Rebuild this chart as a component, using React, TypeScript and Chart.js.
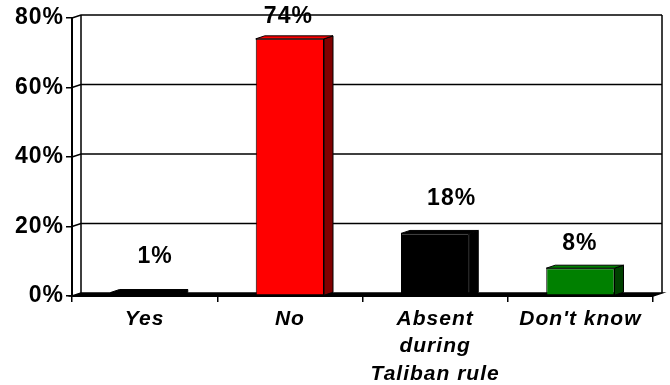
import React, { useEffect, useRef } from "react";
import { Chart, registerables } from "chart.js";

Chart.register(...registerables);

// Survey answers and their shares (%)
const categories: (string | string[])[] = ["Yes", "No", ["Absent", "during", "Taliban rule"], "Don't know"];
const values: number[] = [1, 74, 18, 8];
const yTickValues: number[] = [0, 20, 40, 60, 80];

// Face colours for each bar: front / side
const frontColors = ["#000000", "#FF0000", "#000000", "#008000"];
const sideColors = ["#000000", "#800000", "#000000", "#004000"];

// depth of the pseudo-3D walls and bars
const DX = 9;
const DY = 3;

// small per-label nudges for the value captions (dx, lift above bar top)
const captionNudge = [
  { dx: 6, lift: 36 },
  { dx: -6, lift: 22 },
  { dx: 12, lift: 35 },
  { dx: -5, lift: 25 },
];

const FONT = "'Liberation Sans', Arial, Helvetica, sans-serif";

const poly = (ctx: CanvasRenderingContext2D, pts: number[][]) => {
  ctx.beginPath();
  ctx.moveTo(pts[0][0], pts[0][1]);
  for (let i = 1; i < pts.length; i++) ctx.lineTo(pts[i][0], pts[i][1]);
  ctx.closePath();
};

const threeD = {
  id: "threeD",
  beforeDraw(chart: any) {
    chart.ctx.letterSpacing = "1px";
  },
  beforeDatasetsDraw(chart: any) {
    const { ctx, chartArea, scales } = chart;
    const { left, right, bottom } = chartArea;
    const y = scales.y;
    const topY = y.getPixelForValue(80);
    ctx.save();
    ctx.strokeStyle = "#000";
    ctx.lineWidth = 1.5;
    // back wall edges
    ctx.beginPath();
    ctx.moveTo(left + DX, topY - DY);
    ctx.lineTo(left + DX, bottom - DY);
    ctx.moveTo(right + DX, topY - DY);
    ctx.lineTo(right + DX, bottom - DY);
    ctx.stroke();
    // gridlines on the back wall with their side-wall connectors
    yTickValues.forEach((v) => {
      if (v === 0) return;
      const yy = y.getPixelForValue(v);
      ctx.beginPath();
      ctx.moveTo(left, yy);
      ctx.lineTo(left + DX, yy - DY);
      ctx.lineTo(right + DX, yy - DY);
      ctx.stroke();
    });
    // floor
    ctx.fillStyle = "#000";
    poly(ctx, [
      [left, bottom],
      [left + DX, bottom - DY],
      [right + DX, bottom - DY],
      [right, bottom],
    ]);
    ctx.fill();
    ctx.stroke();
    ctx.restore();
  },
  afterDatasetsDraw(chart: any) {
    const { ctx } = chart;
    const meta = chart.getDatasetMeta(0);
    ctx.save();
    ctx.strokeStyle = "#000";
    ctx.lineWidth = 1;
    meta.data.forEach((bar: any, i: number) => {
      const { x, y, base, width } = bar.getProps(["x", "y", "base", "width"], true);
      const L = x - width / 2;
      const R = x + width / 2;
      // side face
      ctx.fillStyle = sideColors[i];
      poly(ctx, [
        [R, y],
        [R + DX, y - DY],
        [R + DX, base - DY],
        [R, base],
      ]);
      ctx.fill();
      ctx.stroke();
      // top face
      ctx.fillStyle = frontColors[i];
      poly(ctx, [
        [L, y],
        [L + DX, y - DY],
        [R + DX, y - DY],
        [R, y],
      ]);
      ctx.fill();
      ctx.stroke();
      // value caption
      const n = captionNudge[i];
      ctx.fillStyle = "#000";
      ctx.font = `bold 23px ${FONT}`;
      ctx.textAlign = "center";
      ctx.textBaseline = "middle";
      ctx.fillText(`${values[i]}%`, x + DX / 2 + n.dx, y - n.lift);
    });
    ctx.restore();
  },
};

export default function App() {
  const canvasRef = useRef<HTMLCanvasElement | null>(null);

  useEffect(() => {
    if (!canvasRef.current) return;
    const chart = new Chart(canvasRef.current, {
      type: "bar",
      data: {
        labels: categories as any,
        datasets: [
          {
            data: values,
            backgroundColor: frontColors,
            borderColor: "#000",
            borderWidth: 1,
            borderSkipped: false,
            categoryPercentage: 1,
            barPercentage: 0.47,
          },
        ],
      },
      options: {
        animation: false,
        responsive: true,
        maintainAspectRatio: false,
        layout: { padding: { left: 0, right: 17, top: 18, bottom: 0 } },
        plugins: { legend: { display: false }, tooltip: { enabled: false } },
        scales: {
          x: {
            grid: {
              offset: true,
              drawOnChartArea: false,
              drawTicks: true,
              tickLength: 6,
              color: "#000",
              lineWidth: 1.5,
            },
            border: { display: true, color: "#000", width: 2 },
            ticks: {
              color: "#000",
              padding: 4,
              maxRotation: 0,
              autoSkip: false,
              font: { family: FONT, size: 21, weight: "bold", style: "italic", lineHeight: 1.29 },
            },
            afterFit: (scale: any) => {
              scale.height = 89;
            },
          },
          y: {
            min: 0,
            max: 80,
            grid: {
              drawOnChartArea: false,
              drawTicks: true,
              tickLength: 6,
              color: "#000",
              lineWidth: 1.5,
            },
            border: { display: true, color: "#000", width: 2 },
            ticks: {
              stepSize: 20,
              color: "#000",
              padding: 2,
              font: { family: FONT, size: 23, weight: "bold" },
              callback: (v: any) => `${v}%`,
            },
            afterFit: (scale: any) => {
              scale.width = 72;
            },
          },
        },
      },
      plugins: [threeD],
    });
    return () => chart.destroy();
  }, []);

  return (
    <div style={{ position: "absolute", left: 0, top: 0, width: 670, height: 385, background: "#fff" }}>
      <canvas ref={canvasRef} />
    </div>
  );
}
